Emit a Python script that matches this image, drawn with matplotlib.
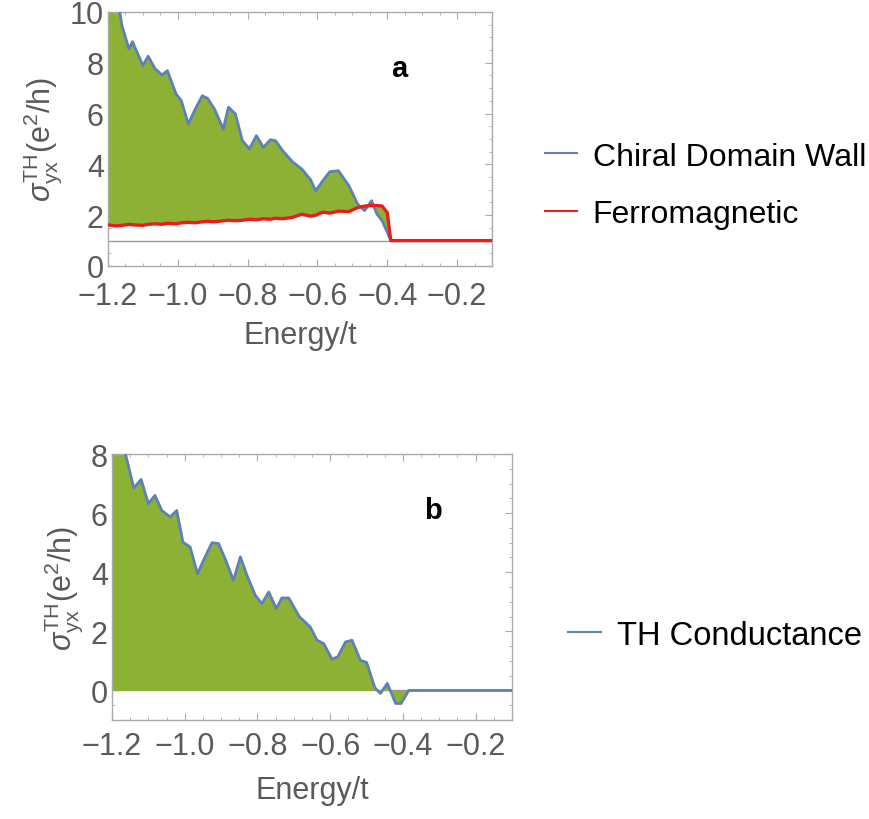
import numpy as np
import matplotlib
matplotlib.use("Agg")
import matplotlib.pyplot as plt
from matplotlib.lines import Line2D
from matplotlib.ticker import MultipleLocator

plt.rcParams['font.family'] = ['Liberation Sans', 'DejaVu Sans']
plt.rcParams['mathtext.fontset'] = 'custom'
plt.rcParams['mathtext.rm'] = 'Liberation Sans'
plt.rcParams['mathtext.it'] = 'Liberation Sans:italic'

# panel a: chiral domain wall vs ferromagnetic
energy_a = [-1.20, -1.18, -1.16, -1.14, -1.13, -1.10, -1.085, -1.065, -1.045, -1.03,
            -1.005, -0.99, -0.97, -0.95, -0.93, -0.915, -0.895, -0.87, -0.855, -0.835,
            -0.815, -0.795, -0.775, -0.755, -0.735, -0.72, -0.70, -0.67, -0.645, -0.62,
            -0.605, -0.585, -0.565, -0.54, -0.51, -0.485, -0.465, -0.445, -0.43, -0.415,
            -0.40, -0.39, -0.10]
chiral_wall = [13.0, 11.2, 9.46, 8.54, 8.83, 7.89, 8.26, 7.76, 7.52, 7.69,
               6.77, 6.51, 5.59, 6.18, 6.70, 6.60, 6.18, 5.39, 6.25, 5.98,
               4.93, 4.61, 5.13, 4.67, 4.97, 4.93, 4.54, 4.08, 3.82, 3.40,
               2.96, 3.35, 3.71, 3.75, 3.16, 2.44, 2.18, 2.57, 2.05, 1.78,
               1.33, 1.00, 1.00]
ferro = [1.62, 1.58, 1.60, 1.64, 1.62, 1.60, 1.64, 1.66, 1.64, 1.68,
         1.66, 1.70, 1.72, 1.70, 1.74, 1.76, 1.74, 1.78, 1.80, 1.78,
         1.80, 1.84, 1.82, 1.86, 1.84, 1.88, 1.86, 1.92, 2.04, 1.96,
         2.00, 2.12, 2.08, 2.16, 2.14, 2.30, 2.36, 2.38, 2.38, 2.36,
         2.10, 1.00, 1.00]

# panel b: topological Hall conductance
energy_b = [-1.20, -1.18, -1.16, -1.14, -1.12, -1.10, -1.082, -1.063, -1.04, -1.022,
            -1.005, -0.985, -0.965, -0.944, -0.925, -0.907, -0.889, -0.866, -0.847, -0.829,
            -0.806, -0.788, -0.769, -0.748, -0.733, -0.714, -0.685, -0.655, -0.636, -0.618,
            -0.595, -0.579, -0.558, -0.540, -0.517, -0.500, -0.477, -0.462, -0.443, -0.420,
            -0.405, -0.384, -0.10]
th_cond = [9.8, 8.9, 7.85, 6.85, 7.14, 6.32, 6.60, 6.09, 5.87, 6.09,
           5.02, 4.85, 3.95, 4.52, 5.00, 4.97, 4.46, 3.73, 4.52, 3.90,
           3.22, 2.94, 3.33, 2.77, 3.13, 3.13, 2.50, 2.15, 1.70, 1.59,
           1.06, 1.14, 1.64, 1.70, 1.02, 0.95, 0.09, -0.10, 0.24, -0.44,
           -0.44, 0.00, 0.00]

blue = '#5e81b5'
red = '#ec1c1c'
green = '#8cb135'
gray = '#5a5a5a'
ylab = r'$\sigma_{\mathrm{yx}}^{\mathrm{TH}}\mathrm{(e^2/h)}$'

fig = plt.figure(figsize=(8.69, 8.20), dpi=100)
ax1 = fig.add_axes([0.1243, 0.6744, 0.4419, 0.3098])
ax2 = fig.add_axes([0.1289, 0.1207, 0.4603, 0.3244])


def style(ax, xpad, lpad):
    for s in ax.spines.values():
        s.set_color('#aaaaaa')
        s.set_linewidth(1.0)
    ax.xaxis.set_major_locator(MultipleLocator(0.2))
    ax.xaxis.set_minor_locator(MultipleLocator(0.05))
    ax.yaxis.set_major_locator(MultipleLocator(2))
    ax.yaxis.set_minor_locator(MultipleLocator(0.5))
    ax.tick_params(which='both', direction='in', top=True, right=True,
                   colors='#aaaaaa', labelcolor=gray, labelsize=22)
    ax.tick_params(axis='y', pad=3)
    ax.tick_params(axis='x', pad=xpad)
    ax.tick_params(which='major', length=5)
    ax.tick_params(which='minor', length=2.5)
    ax.set_xlim(-1.2, -0.1)
    ax.set_xticks([-1.2, -1.0, -0.8, -0.6, -0.4, -0.2])
    ax.set_xticklabels(['\u22121.2', '\u22121.0', '\u22120.8', '\u22120.6', '\u22120.4', '\u22120.2'])
    ax.set_xlabel('Energy/t', fontsize=22, color=gray, labelpad=lpad)
    ax.set_ylabel(ylab, fontsize=22, color=gray, labelpad=4)


# panel a
ax1.axhline(1, color='#999999', lw=1.0, zorder=1)
ax1.fill_between(energy_a, chiral_wall, ferro, color=green, lw=0, zorder=2)
ax1.plot(energy_a, chiral_wall, color=blue, lw=2.0, zorder=3)
ax1.plot(energy_a, ferro, color=red, lw=2.4, zorder=4)
style(ax1, 10.5, 7)
ax1.set_ylim(0, 10)
ax1.text(-0.366, 7.8, 'a', fontsize=21, fontweight='bold', ha='center', va='center')

# panel b
ax2.axhline(0, color='#999999', lw=1.0, zorder=1)
ax2.fill_between(energy_b, th_cond, 0, color=green, lw=0, zorder=2)
ax2.plot(energy_b, th_cond, color=blue, lw=2.0, zorder=3)
style(ax2, 8, 10)
ax2.set_ylim(-1, 8)
ax2.text(-0.318, 6.1, 'b', fontsize=21, fontweight='bold', ha='center', va='center')

# legends
h_a = [Line2D([], [], color=blue, lw=1.5), Line2D([], [], color=red, lw=1.5)]
fig.legend(h_a, ['Chiral Domain Wall', 'Ferromagnetic'], loc='center left',
           bbox_to_anchor=(0.627, 0.773), frameon=False, fontsize=23,
           handlelength=1.0, handletextpad=0.5, labelspacing=0.85,
           borderpad=0, borderaxespad=0)
h_b = [Line2D([], [], color=blue, lw=1.5)]
fig.legend(h_b, ['TH Conductance'], loc='center left',
           bbox_to_anchor=(0.654, 0.224), frameon=False, fontsize=23.5,
           handlelength=1.0, handletextpad=0.5,
           borderpad=0, borderaxespad=0)

fig.savefig('out.png', dpi=100)
